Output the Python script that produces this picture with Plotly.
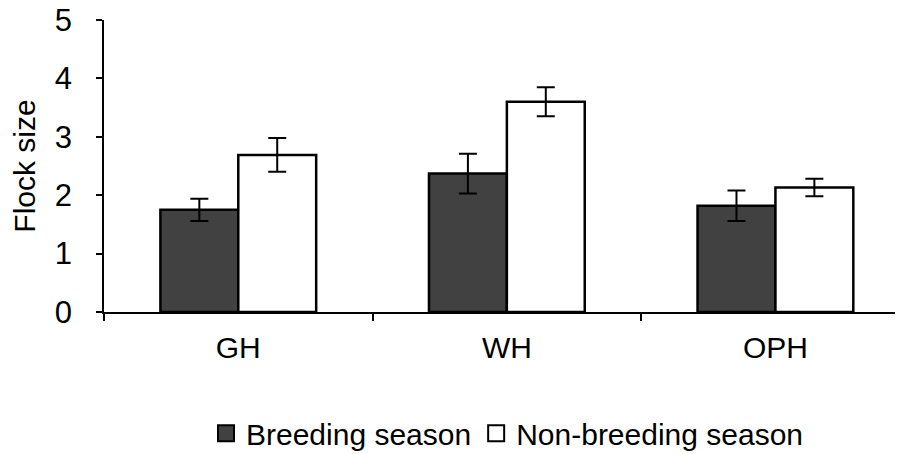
import plotly.graph_objects as go

categories = ["GH", "WH", "OPH"]
breeding = [1.75, 2.37, 1.82]
breeding_err = [0.19, 0.34, 0.26]
nonbreeding = [2.69, 3.60, 2.13]
nonbreeding_err = [0.29, 0.25, 0.15]
y_ticks = [0, 1, 2, 3, 4, 5]

FONT = "Liberation Sans, Arial, sans-serif"
DARK = "#414141"

fig = go.Figure()
fig.add_trace(go.Bar(
    name="Breeding season", x=categories, y=breeding, showlegend=False,
    marker=dict(color=DARK, line=dict(color="black", width=2.5)),
    error_y=dict(type="data", array=breeding_err, color="black", thickness=2, width=9),
))
fig.add_trace(go.Bar(
    name="Non-breeding season", x=categories, y=nonbreeding, showlegend=False,
    marker=dict(color="white", line=dict(color="black", width=2.5)),
    error_y=dict(type="data", array=nonbreeding_err, color="black", thickness=2, width=9),
))
# legend entries with larger square keys
fig.add_trace(go.Scatter(
    name="Breeding season", x=[None], y=[None], mode="markers",
    marker=dict(symbol="square", size=16, color=DARK, line=dict(color="black", width=2)),
))
fig.add_trace(go.Scatter(
    name="Non-breeding season", x=[None], y=[None], mode="markers",
    marker=dict(symbol="square", size=16, color="white", line=dict(color="black", width=2)),
))

# page body has an 8px margin, so the figure is sized to fit the 903x454 window
fig.update_layout(
    width=895, height=446,
    margin=dict(l=96, r=0, t=12, b=142, autoexpand=False),
    plot_bgcolor="white", paper_bgcolor="white",
    barmode="group", bargap=0.42, bargroupgap=0,
    font=dict(family=FONT, size=30, color="black"),
    showlegend=True,
    legend=dict(orientation="h", x=0.505, xanchor="center", y=-0.415, yanchor="middle",
                font=dict(size=30), itemwidth=30, traceorder="normal"),
)
fig.update_xaxes(
    range=[-0.5, 2.475], showline=True, linecolor="black", linewidth=1.5,
    ticks="outside", tickson="boundaries", ticklen=7, tickwidth=1.5, tickcolor="black",
    showgrid=False, tickfont=dict(size=30), automargin=False, ticklabelstandoff=8,
    type="category",
)
fig.update_yaxes(
    range=[0, 5], tickvals=y_ticks, showline=True, linecolor="black", linewidth=1.5,
    ticks="outside", ticklen=6, tickwidth=1.5, tickcolor="black", showgrid=False,
    zeroline=False, tickfont=dict(size=31), ticklabelstandoff=18, automargin=False,
    ticklabeloverflow="allow",
    title=dict(text="Flock size", font=dict(size=30), standoff=18),
)

fig.write_html("out.html")
